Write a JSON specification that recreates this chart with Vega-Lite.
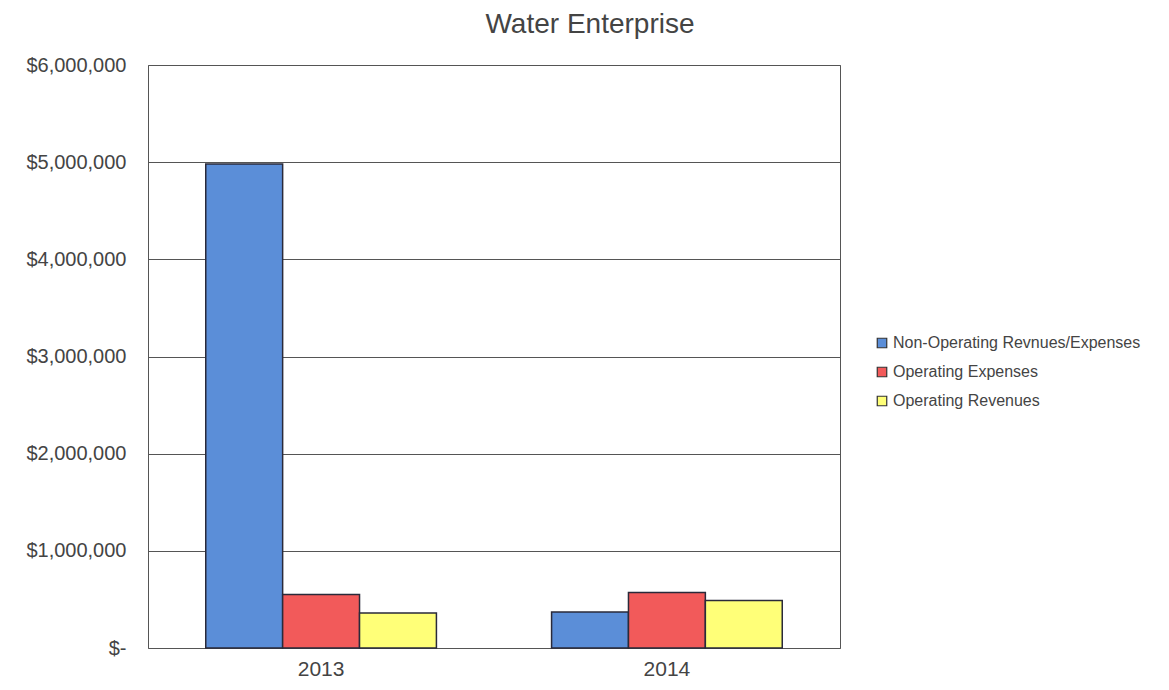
{
  "$schema": "https://vega.github.io/schema/vega-lite/v6.json",
  "autosize": "none",
  "width": 692,
  "height": 583,
  "padding": {"left": 148, "top": 65, "right": 329, "bottom": 42},
  "background": "white",
  "title": {"text": "Water Enterprise", "fontSize": 28, "font": "Liberation Sans", "fontWeight": "normal", "color": "#444", "anchor": "middle", "dx": 96, "offset": 16},
  "data": {"values": [
    {"year": "2013", "category": "Non-Operating Revnues/Expenses", "amount": 4980000},
    {"year": "2013", "category": "Operating Expenses", "amount": 550000},
    {"year": "2013", "category": "Operating Revenues", "amount": 360000},
    {"year": "2014", "category": "Non-Operating Revnues/Expenses", "amount": 370000},
    {"year": "2014", "category": "Operating Expenses", "amount": 570000},
    {"year": "2014", "category": "Operating Revenues", "amount": 490000}
  ]},
  "config": {
    "font": "Liberation Sans",
    "view": {"stroke": "#555", "strokeWidth": 1}
  },
  "mark": {"type": "bar", "stroke": "#2a2a3a", "strokeWidth": 1.5},
  "encoding": {
    "x": {"field": "year", "type": "nominal", "scale": {"paddingInner": 0.333, "paddingOuter": 0.167},
      "axis": {"title": null, "labelAngle": 0, "labelFontSize": 21, "labelColor": "#444", "ticks": false, "domain": false, "labelPadding": 10}},
    "xOffset": {"field": "category", "type": "nominal", "sort": ["Non-Operating Revnues/Expenses", "Operating Expenses", "Operating Revenues"], "scale": {"paddingInner": 0, "paddingOuter": 0}},
    "y": {"field": "amount", "type": "quantitative", "scale": {"domain": [0, 6000000]},
      "axis": {"title": null, "values": [0, 1000000, 2000000, 3000000, 4000000, 5000000, 6000000], "labelExpr": "datum.value == 0 ? '$-' : '$' + format(datum.value, ',')", "labelFontSize": 20, "labelColor": "#444", "ticks": false, "domain": false, "labelPadding": 22, "gridColor": "#555", "gridOpacity": 1, "gridWidth": 1}},
    "color": {"field": "category", "type": "nominal", "sort": ["Non-Operating Revnues/Expenses", "Operating Expenses", "Operating Revenues"],
      "scale": {"range": ["#5b8ed8", "#f25a5a", "#ffff78"]},
      "legend": {"title": null, "orient": "none", "legendX": 726, "legendY": 270, "symbolType": "square", "symbolSize": 90, "symbolStrokeColor": "#333", "symbolStrokeWidth": 1.2, "labelFontSize": 16, "labelColor": "#444", "labelLimit": 400, "rowPadding": 13, "labelOffset": 3}}
  }
}
